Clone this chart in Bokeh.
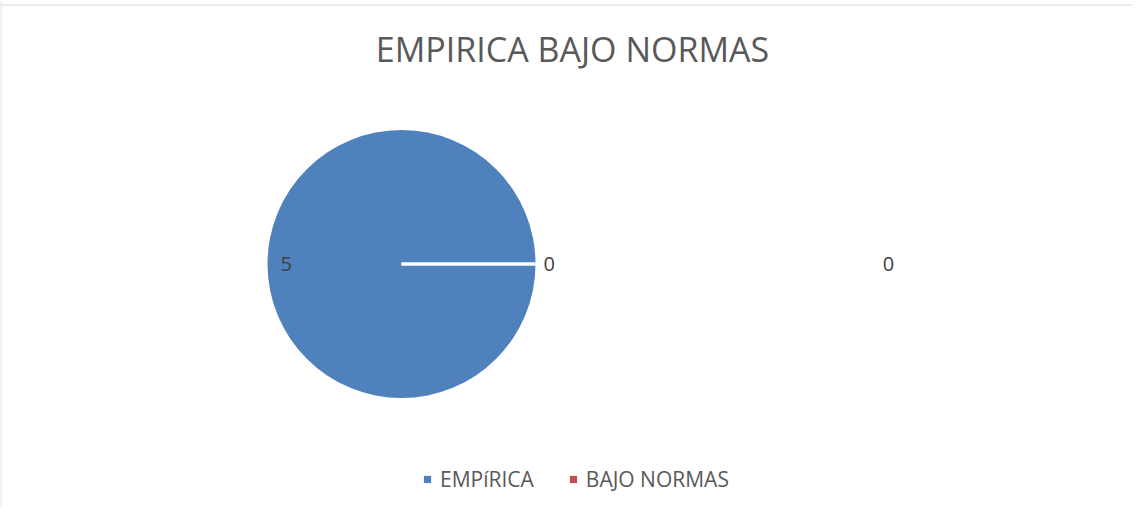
import numpy as np
from bokeh.plotting import figure
from bokeh.models import Range1d, Legend, LegendItem, ColumnDataSource, Span
from bokeh.embed import file_html
from bokeh.resources import INLINE
from bokeh.core.properties import value

# ---- data ----
chart_title = "EMPIRICA BAJO NORMAS"
categories = ["EMPíRICA", "BAJO NORMAS"]
values = [5, 0]
colors = ["#4F81BD", "#C0504D"]
extra_labels = ["0"]

FONT = "Open Sans"
W, H = 1132, 508

p = figure(width=W, height=H, output_backend="svg", toolbar_location=None,
           x_range=Range1d(0, W), y_range=Range1d(0, H), min_border=0)
p.axis.visible = False
p.grid.visible = False
p.outline_line_color = None
p.background_fill_color = "white"

# chart border (left & top)
p.add_layout(Span(location=0.5, dimension="height", line_color="#d9d9d9", line_width=1))
p.add_layout(Span(location=H - 4.5, dimension="width", line_color="#d9d9d9", line_width=1))

# ---- pie ----
cx, cy, r = 401, 244.5, 134
vals = np.array(values, dtype=float)
frac = vals / vals.sum()
ends = np.cumsum(frac) * 2 * np.pi
starts = np.concatenate([[0.0], ends[:-1]])
radii = np.where(vals > 0, r, 0.0)
src = ColumnDataSource(dict(cat=categories, val=values, start=starts, end=ends,
                            color=colors, radius=radii))
p.wedge(x=cx, y=cy, radius="radius", start_angle="start", end_angle="end",
        fill_color="color", line_color=None, source=src)

# slice borders (white separators at slice start angles)
bx1 = cx + r * np.cos(starts)
by1 = cy + r * np.sin(starts)
p.segment(x0=[cx] * len(starts), y0=[cy] * len(starts), x1=bx1, y1=by1,
          line_color="white", line_width=3)

# legend key renderer (zero size in the plot; legend draws the squares)
keys = p.scatter(x=cx, y=cy, size=0, marker="square", fill_color="color",
                 line_color=None, source=src)

# data labels
mids = (starts + ends) / 2
for i, (v, m) in enumerate(zip(values, mids)):
    if frac[i] > 0:
        lx, ly, al = cx + 0.86 * r * np.cos(m), cy + 0.86 * r * np.sin(m), "center"
    else:
        lx, ly, al = cx + (r + 8) * np.cos(m), cy + (r + 8) * np.sin(m), "left"
    p.text(x=[lx], y=[ly], text=[str(v)], text_font=value(FONT), text_font_size="20px",
           text_color="#404040", text_align=al, text_baseline="middle")

p.text(x=[888], y=[cy], text=extra_labels, text_font=value(FONT), text_font_size="20px",
       text_color="#404040", text_align="center", text_baseline="middle")

# title
p.text(x=[572], y=[459.5], text=[chart_title], text_font=value(FONT), text_font_size="34px",
       text_color="#595959", text_align="center", text_baseline="middle")

# legend
items = [LegendItem(label=c, renderers=[keys], index=i) for i, c in enumerate(categories)]
legend = Legend(items=items, orientation="horizontal", location=(418, 15),
                glyph_width=18, glyph_height=18, label_height=18, label_standoff=4,
                spacing=30, padding=0, margin=0, border_line_color=None,
                background_fill_alpha=0, label_text_font=FONT, label_text_font_size="21px",
                label_text_color="#595959")
p.add_layout(legend, "center")

open("out.html", "w").write(file_html(p, INLINE))
